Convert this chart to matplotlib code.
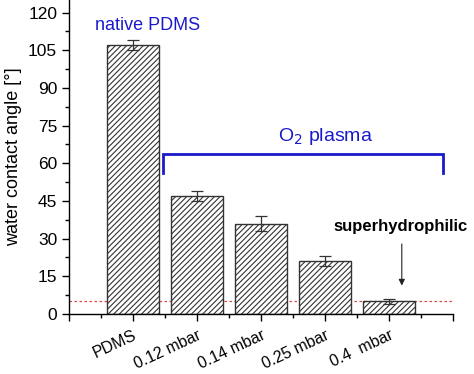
import matplotlib.pyplot as plt
import numpy as np

plt.rcParams['font.family'] = ['Liberation Sans', 'DejaVu Sans']
plt.rcParams['hatch.linewidth'] = 0.8

samples = ['PDMS', '0.12 mbar', '0.14 mbar', '0.25 mbar', '0.4  mbar']
angles = [107, 47, 36, 21, 5]
errors = [2, 2, 3, 2, 1]
threshold = 5

blue = '#1a1acc'

fig = plt.figure(figsize=(4.74, 3.74), dpi=100)
ax = fig.add_axes([0.1456, 0.1604, 0.8101, 0.8396])

pos = np.arange(1, len(samples) + 1)
ax.bar(pos, angles, width=0.8, color='white', edgecolor='#333333',
       hatch='//////', linewidth=1.0, zorder=2)
ax.errorbar(pos, angles, yerr=errors, fmt='none', ecolor='#333333',
            elinewidth=0.9, capsize=4, capthick=0.9, zorder=3)

ax.axhline(threshold, color='#e04848', linestyle=(0, (2, 2)), linewidth=0.9, zorder=1)

ax.set_xlim(0, 6)
ax.set_ylim(0, 125)
ax.set_yticks(np.arange(0, 121, 15))
ax.set_yticks(np.arange(0, 125, 7.5), minor=True)
ax.set_xticks(np.arange(0, 7, 1))
ax.set_xticks(np.arange(0.5, 6, 1), minor=True)
ax.set_xticklabels([''] + samples + [''], rotation=25, ha='right',
                   rotation_mode='anchor', fontsize=11.5)
ax.tick_params(axis='y', labelsize=12.5, direction='out', length=5, width=1)
ax.tick_params(axis='x', direction='out', length=5, width=1, pad=5)
ax.tick_params(which='minor', direction='out', length=3, width=1)
ax.spines['top'].set_visible(False)
ax.spines['right'].set_visible(False)
ax.spines['left'].set_linewidth(1.0)
ax.spines['bottom'].set_linewidth(1.0)
ax.set_ylabel('water contact angle [°]', fontsize=13, labelpad=4)

# annotations
ax.text(1.22, 115, 'native PDMS', color=blue, fontsize=13, ha='center', va='center')
ax.plot([1.47, 1.47, 5.84, 5.84], [56.2, 63.8, 63.8, 56.2], color=blue,
        linewidth=2, solid_joinstyle='miter', clip_on=False)
ax.text(4.0, 70.6, 'O$_2$ plasma', color=blue, fontsize=14, ha='center', va='center')
ax.text(5.18, 34.7, 'superhydrophilic', fontsize=12, fontweight='bold',
        ha='center', va='center')
ax.annotate('', xy=(5.2, 10.2), xytext=(5.2, 29),
            arrowprops=dict(arrowstyle='-|>', color='#222222', lw=0.8,
                            mutation_scale=9))

fig.savefig('out.png', dpi=100)
